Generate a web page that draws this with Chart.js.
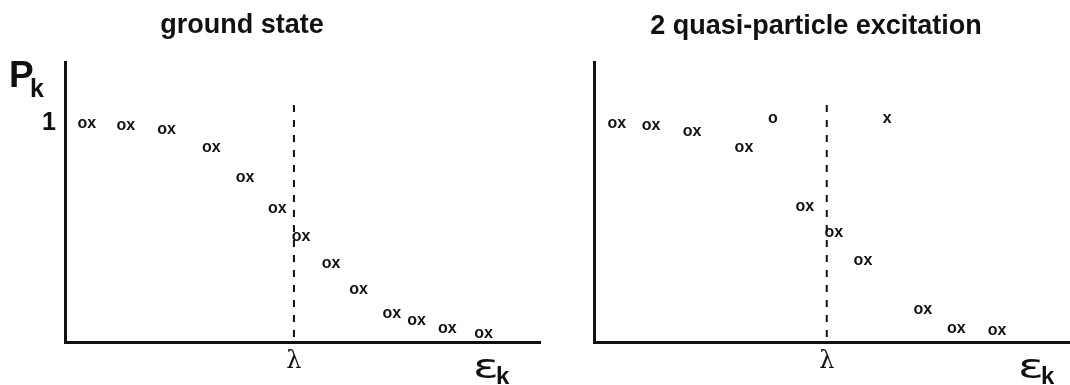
<!DOCTYPE html>
<html>
<head>
<meta charset="utf-8">
<script src="https://cdn.jsdelivr.net/npm/chart.js@4"></script>
<style>
  html, body { margin: 0; padding: 0; background: #fff; }
  #wrap { position: relative; width: 1070px; height: 385px; overflow: hidden; }
  #wrap canvas { position: absolute; top: 0; }
</style>
</head>
<body>
<div id="wrap">
  <canvas id="leftChart" width="545" height="385" style="left:0"></canvas>
  <canvas id="rightChart" width="535" height="385" style="left:535px"></canvas>
</div>
<script>
// energy axis runs 0..10, occupation axis 0..1.28 (tick "1" = full occupation)
var lambdaGround = 4.82;
var lambdaExcited = 4.89;
var lambdaTop = 1.083;

var groundE = [0.46, 1.28, 2.14, 3.08, 3.79, 4.47, 4.97, 5.60, 6.18, 6.88, 7.40, 8.05, 8.81];
var groundP = [1.00, 0.99, 0.97, 0.89, 0.75, 0.61, 0.48, 0.36, 0.24, 0.13, 0.10, 0.06, 0.04];

var excitedE = [0.48, 1.20, 2.06, 3.15, 4.43, 5.04, 5.65, 6.91, 7.61, 8.47];
var excitedP = [1.00, 0.99, 0.96, 0.89, 0.62, 0.50, 0.37, 0.15, 0.06, 0.05];

// blocked levels: only 'o' or only 'x'
var blockedOE = [3.76];
var blockedOP = [1.02];
var blockedXE = [6.16];
var blockedXP = [1.02];

function pts(xs, ys) {
    return xs.map(function (x, i) { return { x: x, y: ys[i] }; });
}

// draw the "ox" markers as text at each point
var markerText = {
    id: 'markerText',
    afterDatasetsDraw: function (chart) {
        var ctx = chart.ctx;
        ctx.save();
        ctx.font = 'bold 16px "Liberation Sans", Arial, sans-serif';
        ctx.fillStyle = '#111';
        ctx.textAlign = 'center';
        ctx.textBaseline = 'middle';
        chart.data.datasets.forEach(function (ds, i) {
            if (!ds.marker) return;
            chart.getDatasetMeta(i).data.forEach(function (el) {
                ctx.fillText(ds.marker, el.x, el.y);
            });
        });
        ctx.restore();
    }
};

function annotations(title, titleX, titleY, showP, epsX) {
    return {
        id: 'annotations',
        afterDraw: function (chart) {
            var ctx = chart.ctx;
            ctx.save();
            ctx.fillStyle = '#111';
            ctx.textBaseline = 'alphabetic';
            ctx.textAlign = 'center';
            ctx.font = 'bold 27px "Liberation Sans", Arial, sans-serif';
            ctx.fillText(title, titleX, titleY);
            ctx.textAlign = 'left';
            if (showP) {
                ctx.font = 'bold 37px "Liberation Sans", Arial, sans-serif';
                ctx.fillText('P', 9, 87);
                ctx.font = 'bold 25px "Liberation Sans", Arial, sans-serif';
                ctx.fillText('k', 30, 97);
            }
            ctx.save();
            ctx.translate(epsX, 378);
            ctx.scale(1.4, 1);
            ctx.font = '34px "DejaVu Sans", sans-serif';
            ctx.fillText('ε', 0, 0);
            ctx.restore();
            ctx.font = 'bold 24px "Liberation Sans", Arial, sans-serif';
            ctx.fillText('k', epsX + 23, 384);
            ctx.restore();
        }
    };
}

function makeChart(id, opts) {
    var datasets = opts.series.map(function (s) {
        return { data: s.data, marker: s.marker, pointRadius: 0, showLine: false };
    });
    datasets.push({
        data: [{ x: opts.lambda, y: lambdaTop }, { x: opts.lambda, y: 0 }],
        showLine: true,
        borderColor: '#111',
        borderWidth: 2,
        borderDash: [7, 8],
        pointRadius: 0
    });
    return new Chart(document.getElementById(id), {
        type: 'scatter',
        data: { datasets: datasets },
        options: {
            responsive: false,
            animation: false,
            events: [],
            layout: { padding: { top: 62, right: opts.padRight, left: 0, bottom: 0 } },
            plugins: { legend: { display: false }, tooltip: { enabled: false } },
            scales: {
                x: {
                    type: 'linear',
                    min: 0,
                    max: 10,
                    grid: { display: false, drawTicks: false },
                    border: { display: true, color: '#111', width: 3 },
                    afterBuildTicks: function (s) { s.ticks = [{ value: opts.lambda }]; },
                    afterFit: function (s) { s.height = 43; },
                    ticks: {
                        callback: function () { return 'λ'; },
                        font: { family: '"DejaVu Serif", serif', size: 24 },
                        color: '#111',
                        padding: 5,
                        maxRotation: 0,
                        autoSkip: false
                    }
                },
                y: {
                    type: 'linear',
                    min: 0,
                    max: 1.28,
                    grid: { display: false, drawTicks: false },
                    border: { display: true, color: '#111', width: 3 },
                    afterBuildTicks: function (s) { s.ticks = opts.showOne ? [{ value: 1 }] : []; },
                    afterFit: function (s) { s.width = opts.axisWidth; },
                    ticks: {
                        display: opts.showOne,
                        callback: function () { return '1'; },
                        font: { family: '"Liberation Sans", Arial, sans-serif', size: 25, weight: 'bold' },
                        color: '#111',
                        padding: 9
                    }
                }
            }
        },
        plugins: [markerText, opts.annot]
    });
}

makeChart('leftChart', {
    series: [{ data: pts(groundE, groundP), marker: 'ox' }],
    lambda: lambdaGround,
    padRight: 5,
    axisWidth: 65,
    showOne: true,
    annot: annotations('ground state', 242, 33, true, 473)
});

makeChart('rightChart', {
    series: [
        { data: pts(excitedE, excitedP), marker: 'ox' },
        { data: pts(blockedOE, blockedOP), marker: 'o' },
        { data: pts(blockedXE, blockedXP), marker: 'x' }
    ],
    lambda: lambdaExcited,
    padRight: 0,
    axisWidth: 59,
    showOne: false,
    annot: annotations('2 quasi-particle excitation', 281, 34, false, 483)
});
</script>
</body>
</html>
